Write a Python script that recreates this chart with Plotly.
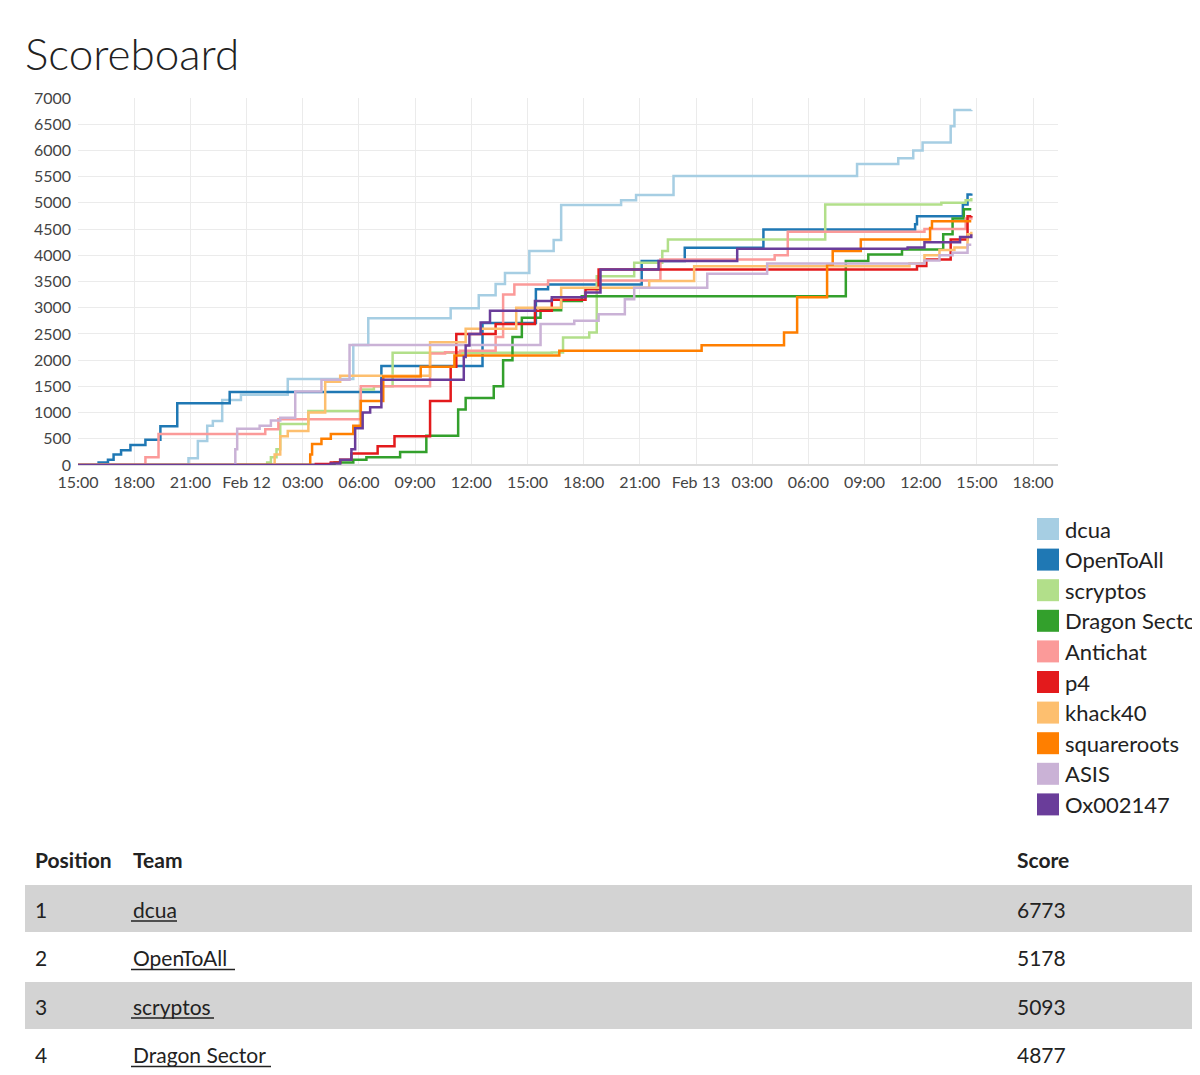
import plotly.graph_objects as go
from datetime import datetime, timedelta

teams = ["dcua", "OpenToAll", "scryptos", "Dragon Sector", "Antichat", "p4",
         "khack40", "squareroots", "ASIS", "Ox002147"]
colors = ["#a6cee3", "#1f78b4", "#b2df8a", "#33a02c", "#fb9a99", "#e31a1c",
          "#fdbf6f", "#ff7f00", "#cab2d6", "#6a3d9a"]

# hours since Feb 11 15:00, cumulative scores
dcua_h = [0, 5.9, 6.4, 6.9, 7.2, 7.7, 8.7, 11.2, 14.7, 15.5, 19.9, 21.4, 22.3, 22.8, 24.1, 25.4, 25.8, 29.0, 29.8, 31.8, 41.6, 43.8, 44.6, 45.1, 46.6, 46.8, 47.7]
dcua_s = [0, 130, 460, 750, 840, 1240, 1340, 1640, 2290, 2800, 2990, 3240, 3450, 3660, 4080, 4290, 4960, 5050, 5150, 5510, 5740, 5850, 6000, 6150, 6460, 6770, 6773]
ota_h = [0, 1.1, 1.6, 1.9, 2.3, 2.8, 3.6, 4.4, 5.3, 8.1, 16.2, 21.6, 24.45, 25.1, 30.1, 32.4, 36.6, 44.7, 44.8, 47.25, 47.5, 47.7]
ota_s = [0, 50, 100, 200, 280, 380, 480, 740, 1180, 1390, 1890, 2710, 3350, 3445, 3890, 4143, 4490, 4590, 4745, 4970, 5160, 5178]
scr_h = [0, 10.1, 10.3, 10.6, 10.8, 12.3, 15.1, 15.8, 16.8, 25.3, 25.9, 27.3, 27.7, 29.7, 31.2, 31.5, 39.9, 46.1, 47.4, 47.7]
scr_s = [0, 50, 150, 300, 780, 1030, 1440, 1500, 2140, 2145, 2430, 2525, 3600, 3860, 4080, 4300, 4970, 5000, 5050, 5093]
ds_h = [0, 13.7, 14.7, 15.4, 17.2, 18.6, 20.3, 20.7, 22.2, 22.7, 23.2, 23.7, 24.7, 25.8, 26.9, 41.0, 42.2, 44.0, 46.2, 46.7, 47.3, 47.7]
ds_s = [0, 50, 100, 150, 250, 560, 1060, 1280, 1500, 2000, 2440, 2810, 2950, 3130, 3220, 3890, 4015, 4110, 4400, 4700, 4877, 4877]
ac_h = [0, 3.6, 4.3, 10.0, 10.7, 15.1, 18.8, 19.6, 20.4, 22.3, 22.7, 23.3, 25.1, 31.1, 37.2, 37.9, 45.2, 47.4, 47.7]
ac_s = [0, 150, 590, 680, 875, 1500, 2125, 2150, 2180, 2440, 3250, 3445, 3520, 3920, 4000, 4450, 4500, 4700, 4750]
p4_h = [0, 12.7, 13.5, 14.0, 14.6, 16.0, 16.9, 18.8, 19.9, 20.2, 22.3, 24.4, 25.3, 27.1, 27.8, 44.8, 45.3, 46.6, 47.5, 47.7]
p4_s = [0, 20, 50, 100, 220, 356, 550, 1220, 1875, 2500, 2690, 2940, 3150, 3350, 3730, 3795, 3920, 4300, 4745, 4750]
kh_h = [0, 10.5, 10.8, 11.2, 12.3, 13.2, 14.0, 18.8, 20.7, 23.4, 25.8, 30.5, 32.9, 44.4, 45.2, 46.0, 46.8, 47.5, 47.7]
kh_s = [0, 200, 550, 650, 1000, 1590, 1700, 2340, 2600, 3000, 3380, 3510, 3790, 3850, 4000, 4100, 4150, 4400, 4450]
sq_h = [0, 12.4, 12.5, 13.0, 13.5, 14.7, 15.1, 16.3, 18.3, 20.1, 25.7, 33.3, 37.7, 38.4, 40.0, 40.3, 41.8, 45.5, 45.6, 47.7]
sq_s = [0, 200, 400, 500, 590, 750, 1220, 1690, 1875, 2090, 2180, 2285, 2525, 3200, 3826, 4080, 4300, 4520, 4650, 4650]
asis_h = [0, 8.4, 8.5, 9.7, 10.3, 10.8, 11.6, 13.0, 14.5, 24.7, 26.5, 27.8, 29.2, 29.7, 33.6, 36.8, 45.2, 46.0, 46.7, 47.5, 47.7]
asis_s = [0, 300, 690, 750, 850, 900, 1400, 1625, 2290, 2690, 2750, 2875, 3160, 3380, 3650, 3845, 3900, 4000, 4050, 4200, 4200]
ox_h = [0, 13.5, 14.0, 14.6, 14.8, 15.2, 15.6, 16.2, 20.6, 20.7, 20.9, 21.5, 22.0, 24.4, 25.3, 27.1, 27.9, 31.0, 35.2, 44.3, 45.2, 47.1, 47.7]
ox_s = [0, 30, 100, 300, 700, 1000, 1100, 1625, 2060, 2280, 2500, 2720, 2940, 3130, 3200, 3290, 3730, 3890, 4125, 4150, 4250, 4350, 4400]

series_h = [dcua_h, ota_h, scr_h, ds_h, ac_h, p4_h, kh_h, sq_h, asis_h, ox_h]
series_s = [dcua_s, ota_s, scr_s, ds_s, ac_s, p4_s, kh_s, sq_s, asis_s, ox_s]

positions = [1, 2, 3, 4]
table_teams = ["dcua", "OpenToAll", "scryptos", "Dragon Sector"]
table_scores = [6773, 5178, 5093, 4877]
underline_w = [46, 104, 83, 140]

base = datetime(2017, 2, 11, 15, 0)
tick_hours = list(range(0, 52, 3))
tick_text = ["15:00", "18:00", "21:00", "Feb 12", "03:00", "06:00", "09:00", "12:00",
             "15:00", "18:00", "21:00", "Feb 13", "03:00", "06:00", "09:00", "12:00",
             "15:00", "18:00"]

W, H = 1200, 1075
def px(x): return x / W
def py(y): return 1 - y / H

fig = go.Figure()
for name, c, hs, ss in zip(teams, colors, series_h, series_s):
    fig.add_trace(go.Scatter(x=[base + timedelta(hours=h) for h in hs], y=ss,
                             mode="lines", line=dict(color=c, width=2.5, shape="hv"),
                             name=name, showlegend=False))

FONT = "Lato, 'Open Sans', sans-serif"
fig.update_layout(
    width=W, height=H, margin=dict(l=0, r=0, t=0, b=0, autoexpand=False),
    paper_bgcolor="white", plot_bgcolor="white",
    font=dict(family=FONT, color="#222"),
    xaxis=dict(domain=[px(70), px(1050)], automargin=False,
               range=[base, base + timedelta(hours=52.33)],
               tickvals=[base + timedelta(hours=h) for h in tick_hours],
               ticktext=tick_text, showgrid=True, gridcolor="#ebebeb",
               tickfont=dict(size=16, color="#444"), zeroline=False, showline=False,
               ticks="", ticklabelstandoff=6),
    yaxis=dict(domain=[py(457), py(90)], range=[0, 7000], dtick=500, automargin=False,
               showgrid=True, gridcolor="#ebebeb", tickfont=dict(size=16, color="#444"),
               zeroline=True, zerolinecolor="#ddd", ticks="", ticklabelstandoff=6),
)

anns = [dict(x=px(15), y=py(45), xref="paper", yref="paper", text="Scoreboard",
             showarrow=False, xanchor="left", yanchor="middle",
             font=dict(size=44, family="Lato Light, Lato, sans-serif", color="#222"))]
shapes = []
for i, (name, c) in enumerate(zip(teams, colors)):
    yc = 521 + i * 30.6
    shapes.append(dict(type="rect", xref="paper", yref="paper", x0=px(1029), x1=px(1051),
                       y0=py(yc + 11), y1=py(yc - 11), fillcolor=c, line=dict(width=0)))
    anns.append(dict(x=px(1055), y=py(yc), xref="paper", yref="paper", text=name,
                     showarrow=False, xanchor="left", yanchor="middle",
                     font=dict(size=22, color="#222")))

# table
for txt, x in [("Position", 25), ("Team", 123), ("Score", 1007)]:
    anns.append(dict(x=px(x), y=py(851), xref="paper", yref="paper", text="<b>" + txt + "</b>",
                     showarrow=False, xanchor="left", yanchor="middle", font=dict(size=21, color="#222")))
for i, (p, t, s) in enumerate(zip(positions, table_teams, table_scores)):
    top = 877 + i * 48.5
    yc = top + 24
    if i % 2 == 0:
        shapes.append(dict(type="rect", xref="paper", yref="paper", x0=px(17), x1=px(1195),
                           y0=py(top + 47), y1=py(top), fillcolor="#d3d3d3", line=dict(width=0),
                           layer="below"))
    for txt, x in [(str(p), 25), (t, 123), (str(s), 1007)]:
        anns.append(dict(x=px(x), y=py(yc), xref="paper", yref="paper", text=txt,
                         showarrow=False, xanchor="left", yanchor="middle",
                         font=dict(size=21, color="#222")))
    shapes.append(dict(type="line", xref="paper", yref="paper", x0=px(123), x1=px(123 + underline_w[i]),
                       y0=py(yc + 12), y1=py(yc + 12), line=dict(color="#222", width=1.5)))
shapes.append(dict(type="rect", xref="paper", yref="paper", x0=px(17), x1=px(1195),
                   y0=py(1075), y1=py(1071), fillcolor="#d3d3d3", line=dict(width=0), layer="below"))

fig.update_layout(annotations=anns, shapes=shapes)
fig.write_html("out.html")
